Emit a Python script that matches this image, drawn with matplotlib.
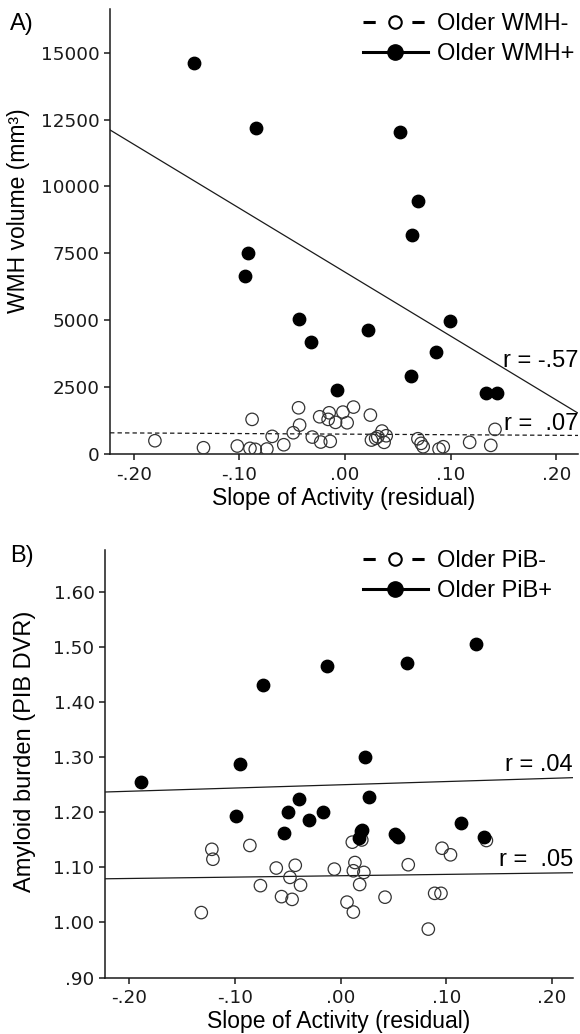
import numpy as np
import matplotlib
matplotlib.use("Agg")
import matplotlib.pyplot as plt
from matplotlib.lines import Line2D
from matplotlib.ticker import FuncFormatter

# Panel A: WMH volume vs slope of activity
wmh_neg_x = [-0.180, -0.134, -0.102, -0.088, -0.090, -0.085, -0.074, -0.069, -0.058, -0.049,
             -0.044, -0.043, -0.031, -0.023, -0.024, -0.016, -0.015, -0.014, -0.009, -0.002,
             0.002, 0.008, 0.024, 0.025, 0.029, 0.031, 0.035, 0.037, 0.039, 0.069,
             0.072, 0.074, 0.089, 0.093, 0.118, 0.138, 0.142]
wmh_neg_y = [497, 235, 299, 1295, 212, 175, 187, 660, 347, 795,
             1728, 1082, 634, 448, 1392, 1295, 1541, 474, 1183, 1567,
             1168, 1754, 1455, 522, 585, 646, 858, 437, 683, 571,
             399, 272, 187, 272, 437, 324, 921]
wmh_pos_x = [-0.143, -0.084, 0.052, 0.069, 0.063, -0.092, -0.095, -0.044, -0.032, 0.022,
             0.099, 0.086, 0.062, -0.008, 0.133, 0.144]
wmh_pos_y = [14600, 12200, 12050, 9450, 8200, 7500, 6650, 5030, 4170, 4650,
             4980, 3810, 2920, 2410, 2290, 2290]

# Panel B: amyloid burden vs slope of activity
pib_neg_x = [-0.122, -0.121, -0.086, -0.132, -0.076, -0.061, -0.056, -0.048, -0.046, -0.043,
             -0.038, -0.006, 0.006, 0.012, 0.0135, 0.012, 0.011, 0.020, 0.022, 0.018,
             0.042, 0.064, 0.083, 0.089, 0.095, 0.096, 0.104, 0.138]
pib_neg_y = [1.133, 1.115, 1.140, 1.018, 1.067, 1.099, 1.047, 1.082, 1.042, 1.104,
             1.068, 1.097, 1.037, 1.019, 1.109, 1.094, 1.146, 1.150, 1.091, 1.069,
             1.046, 1.105, 0.988, 1.053, 1.053, 1.135, 1.123, 1.149]
pib_pos_x = [-0.074, -0.013, 0.063, 0.128, -0.189, -0.095, 0.023, -0.099, -0.050, -0.039,
             -0.030, -0.017, -0.054, 0.027, 0.020, 0.017, 0.019, 0.051, 0.054, 0.114, 0.136]
pib_pos_y = [1.431, 1.467, 1.471, 1.506, 1.256, 1.288, 1.300, 1.194, 1.201, 1.224,
             1.186, 1.201, 1.162, 1.228, 1.169, 1.154, 1.166, 1.160, 1.156, 1.180, 1.156]

x_ticks = [-0.20, -0.10, 0.00, 0.10, 0.20]
wmh_ticks = [0, 2500, 5000, 7500, 10000, 12500, 15000]
pib_ticks = [0.90, 1.00, 1.10, 1.20, 1.30, 1.40, 1.50, 1.60]

LABEL_FONT = "Liberation Sans"
TICK_FONT = "DejaVu Sans"
DARK = "#1a1a1a"


def dotless(v, pos=None):  # -.20 / .00 / 1.60 style
    s = f"{v:.2f}"
    if s.startswith("0."):
        s = s[1:]
    elif s.startswith("-0."):
        s = "-" + s[2:]
    return s


def style_axes(ax, xpad):
    for side in ["top", "right"]:
        ax.spines[side].set_visible(False)
    for side in ["left", "bottom"]:
        ax.spines[side].set_linewidth(1.1)
        ax.spines[side].set_color(DARK)
    ax.tick_params(direction="out", length=4.5, width=1.1, colors=DARK, pad=3)
    ax.tick_params(axis="x", pad=xpad)
    for lab in ax.get_xticklabels() + ax.get_yticklabels():
        lab.set_fontfamily(TICK_FONT)
        lab.set_fontsize(13.2)


def fit_line(ax, x, y, **kw):  # regression line over the whole x range
    b, a = np.polyfit(x, y, 1)
    xs = np.array(ax.get_xlim())
    ax.plot(xs, a + b * xs, color=DARK, lw=0.9, zorder=2, **kw)


fig = plt.figure(figsize=(5.8, 10.34), dpi=100)

# ---- A
axA = fig.add_axes([0.1897, 0.5609, 0.8069, 0.4304])
axA.set_xlim(-0.2225, 0.2206)
axA.set_ylim(0, 16630)
axA.scatter(wmh_neg_x, wmh_neg_y, s=80, facecolors="none", edgecolors="#333333",
            linewidths=0.9, zorder=3)
axA.scatter(wmh_pos_x, wmh_pos_y, s=80, color="black", zorder=4)
fit_line(axA, wmh_neg_x, wmh_neg_y, linestyle=(0, (3.5, 2.5)))
fit_line(axA, wmh_pos_x, wmh_pos_y)
axA.set_xticks(x_ticks)
axA.set_yticks(wmh_ticks)
axA.xaxis.set_major_formatter(FuncFormatter(dotless))
style_axes(axA, 4)
axA.set_xlabel("Slope of Activity (residual)", fontsize=16.5, family=LABEL_FONT)
axA.xaxis.set_label_coords(0.5, -0.1)
axA.xaxis.label.set_va("center")
axA.set_ylabel("WMH volume (mm³)", fontsize=16.5, family=LABEL_FONT)
axA.yaxis.set_label_coords(-0.196, 0.546)
axA.yaxis.label.set_va("center")
axA.text(1.0, 0.21, "r = -.57", transform=axA.transAxes, ha="right", va="center",
         fontsize=17, family=LABEL_FONT)
axA.text(1.0, 0.067, "r =  .07", transform=axA.transAxes, ha="right", va="center",
         fontsize=17, family=LABEL_FONT)

# ---- B
axB = fig.add_axes([0.1810, 0.05464, 0.8069, 0.4134])
axB.set_xlim(-0.2232, 0.2200)
axB.set_ylim(0.90, 1.677)
axB.scatter(pib_neg_x, pib_neg_y, s=80, facecolors="none", edgecolors="#333333",
            linewidths=0.9, zorder=3)
axB.scatter(pib_pos_x, pib_pos_y, s=80, color="black", zorder=4)
fit_line(axB, pib_neg_x, pib_neg_y)
fit_line(axB, pib_pos_x, pib_pos_y)
axB.set_xticks(x_ticks)
axB.set_yticks(pib_ticks)
axB.xaxis.set_major_formatter(FuncFormatter(dotless))
axB.yaxis.set_major_formatter(FuncFormatter(dotless))
style_axes(axB, 3.5)
axB.set_xlabel("Slope of Activity (residual)", fontsize=16.5, family=LABEL_FONT)
axB.xaxis.set_label_coords(0.5, -(1022 - 977.5) / 427.5)
axB.xaxis.label.set_va("center")
axB.set_ylabel("Amyloid burden (PIB DVR)", fontsize=17, family=LABEL_FONT)
axB.yaxis.set_label_coords(-0.171, 0.53)
axB.yaxis.label.set_va("center")
axB.text(1.0, 0.496, "r = .04", transform=axB.transAxes, ha="right", va="center",
         fontsize=17, family=LABEL_FONT)
axB.text(1.0, 0.274, "r =  .05", transform=axB.transAxes, ha="right", va="center",
         fontsize=17, family=LABEL_FONT)

# legends (proxy handles)
for ax, names, anchor in [(axA, ["Older WMH-", "Older WMH+"], (0.54, 0.99)),
                          (axB, ["Older PiB-", "Older PiB+"], (0.551, 1.0))]:
    h_neg = Line2D([0], [0], color="black", lw=2.2, linestyle=(0, (4, 12)),
                   marker="o", markersize=9, markerfacecolor="white",
                   markeredgecolor="black", markeredgewidth=1.5)
    h_pos = Line2D([0], [0], color="black", lw=2.2, marker="o", markersize=11,
                   markerfacecolor="black", markeredgecolor="black")
    ax.legend([h_neg, h_pos], names, loc="upper left", bbox_to_anchor=anchor,
              frameon=False, handlelength=2.75, handletextpad=0.4, borderpad=0,
              borderaxespad=0, labelspacing=0.33,
              prop={"family": LABEL_FONT, "size": 17})

fig.text(10 / 580, 1 - 24 / 1034, "A)", fontsize=17, family=LABEL_FONT, va="center")
fig.text(10 / 580, 1 - 556 / 1034, "B)", fontsize=17, family=LABEL_FONT, va="center")

fig.savefig("out.png", dpi=100)
